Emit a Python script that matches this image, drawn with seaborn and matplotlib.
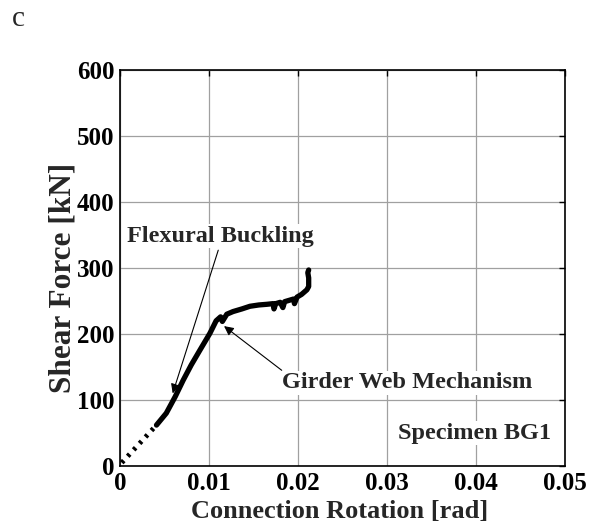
import matplotlib
matplotlib.use("Agg")
import matplotlib.pyplot as plt
import seaborn as sns
import pandas as pd

# Data
rot_dotted = [0.0002, 0.0041]
force_dotted = [5, 62]

rot = [0.0041, 0.0052, 0.0062, 0.0071, 0.0080, 0.0090, 0.0101, 0.0108, 0.0113,
       0.0115, 0.0120, 0.0127, 0.0137, 0.0146, 0.0156, 0.0165, 0.0172, 0.0173,
       0.0175, 0.0180, 0.0183, 0.0185, 0.0190, 0.0195, 0.0196, 0.0199, 0.0204,
       0.0210, 0.0212, 0.0212, 0.0211, 0.0212]
force = [62, 80, 105, 130, 153, 176, 201, 220, 226, 219, 230, 234, 238, 242,
         244, 245, 246, 238, 246, 248, 240, 249, 251, 253, 246, 256, 260,
         267, 272, 285, 293, 297]

x_ticks = [0, 0.01, 0.02, 0.03, 0.04, 0.05]
x_tick_labels = ["0", "0.01", "0.02", "0.03", "0.04", "0.05"]
y_ticks = [0, 100, 200, 300, 400, 500, 600]

sns.set_style("white")
plt.rcParams['font.family'] = ['Liberation Serif', 'DejaVu Serif']
plt.rcParams['font.weight'] = 'bold'

fig = plt.figure(figsize=(5.89, 5.31), dpi=100)
ax = fig.add_axes([120/589, 1-466/531, 445/589, 396/531])

df_dot = pd.DataFrame({"rot": rot_dotted, "force": force_dotted})
df = pd.DataFrame({"rot": rot, "force": force})

sns.lineplot(data=df_dot, x="rot", y="force", ax=ax, color="black",
             linestyle=(0, (0.6, 1.2)), linewidth=3.5, sort=False, estimator=None)
sns.lineplot(data=df, x="rot", y="force", ax=ax, color="black",
             linewidth=3.8, sort=False, estimator=None, solid_capstyle="round")

ax.set_xlim(0, 0.05)
ax.set_ylim(0, 600)
ax.set_xticks(x_ticks)
ax.set_xticklabels(x_tick_labels)
ax.set_yticks(y_ticks)
ax.grid(True, color="#a0a0a0", linewidth=0.9)
ax.set_axisbelow(True)
ax.tick_params(direction="in", length=4, width=1, top=True, right=True,
               labelsize=18, colors="black", pad=4)
for lab in ax.get_xticklabels() + ax.get_yticklabels():
    lab.set_fontweight("bold")
for s in ax.spines.values():
    s.set_visible(True)
    s.set_color("black")
    s.set_linewidth(1.2)

ax.set_xlabel("Connection Rotation [rad]", fontsize=19, fontweight="bold")
ax.set_ylabel("Shear Force [kN]", fontsize=22.5, fontweight="bold")
ax.xaxis.set_label_coords(0.494, -0.087)
ax.yaxis.set_label_coords(-0.0966, 0.475)

ax.annotate("", xy=(0.00592, 110), xytext=(0.01104, 327),
            arrowprops=dict(arrowstyle="-|>", color="black", lw=0.8,
                            mutation_scale=14, shrinkA=0, shrinkB=0))
ax.text(0.0113, 348, "Flexural Buckling", fontsize=17.5, fontweight="bold",
        ha="center", va="center",
        bbox=dict(facecolor="white", edgecolor="none", pad=1))

ax.annotate("", xy=(0.01169, 212), xytext=(0.01817, 145),
            arrowprops=dict(arrowstyle="-|>", color="black", lw=0.8,
                            mutation_scale=14, shrinkA=0, shrinkB=0))
ax.text(0.03225, 126, "Girder Web Mechanism", fontsize=17.5, fontweight="bold",
        ha="center", va="center",
        bbox=dict(facecolor="white", edgecolor="none", pad=1))

ax.text(0.0398, 50, "Specimen BG1", fontsize=17.5, fontweight="bold",
        ha="center", va="center",
        bbox=dict(facecolor="white", edgecolor="none", pad=1))

fig.text(12/589, 1-19/531, "c", fontsize=21, fontweight="normal",
         ha="left", va="center")

fig.savefig("out.png", dpi=100, facecolor="white")
